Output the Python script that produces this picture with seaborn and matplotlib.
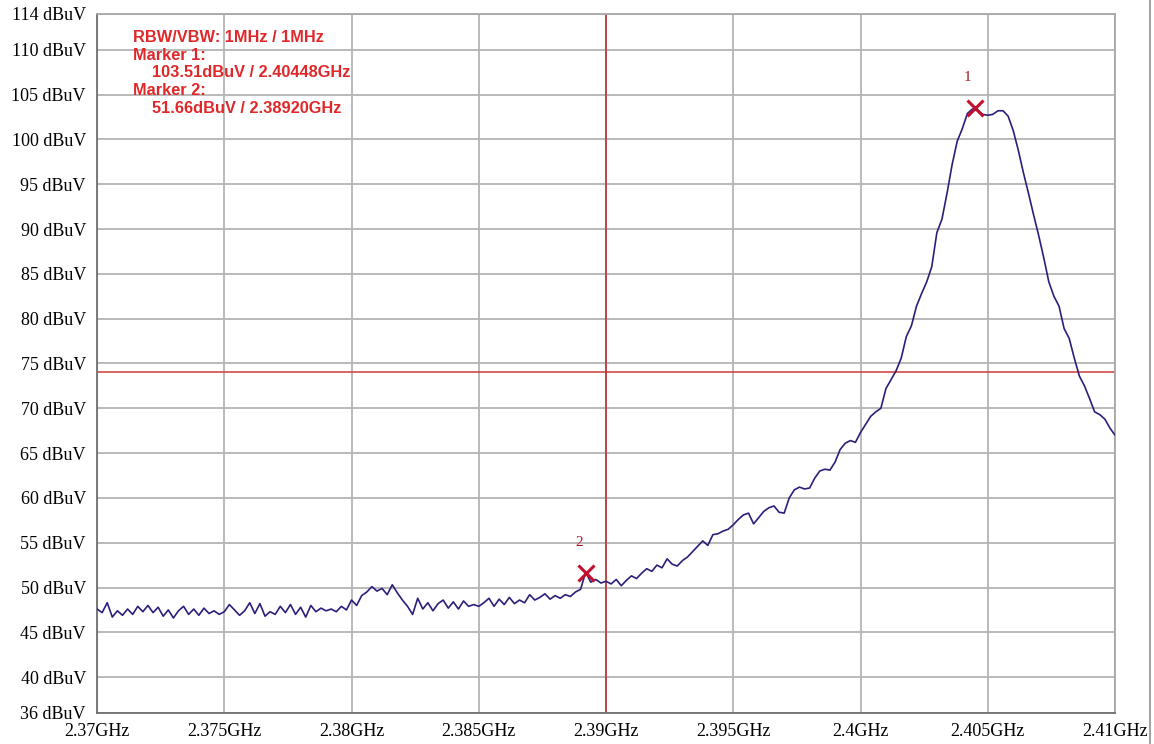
import matplotlib
matplotlib.use('Agg')
import matplotlib.pyplot as plt
import seaborn as sns
import numpy as np
import pandas as pd
from matplotlib.lines import Line2D

# sweep settings
freq_start = 2.37
freq_stop = 2.41

# measured trace, one value per 0.2 MHz step (dBuV)
levels = [
    47.6, 47.2, 48.3, 46.7, 47.4, 46.9, 47.6, 47.0, 47.9, 47.3,
    48.0, 47.2, 47.8, 46.8, 47.5, 46.6, 47.4, 47.9, 47.0, 47.6,
    46.9, 47.7, 47.1, 47.4, 47.0, 47.3, 48.1, 47.5, 46.9, 47.4,
    48.3, 47.1, 48.2, 46.8, 47.3, 47.0, 47.9, 47.2, 48.1, 47.0,
    47.8, 46.7, 48.0, 47.3, 47.7, 47.4, 47.6, 47.3, 47.9, 47.5,
    48.6, 48.0, 49.1, 49.5, 50.1, 49.6, 49.9, 49.2, 50.3, 49.4,
    48.6, 47.9, 47.0, 48.8, 47.6, 48.3, 47.4, 48.2, 48.6, 47.7,
    48.4, 47.6, 48.5, 47.9, 48.1, 47.9, 48.3, 48.8, 47.9, 48.7,
    48.1, 48.9, 48.2, 48.6, 48.3, 49.2, 48.6, 48.9, 49.3, 48.7,
    49.1, 48.8, 49.2, 49.0, 49.5, 49.8, 51.7, 50.6, 50.9, 50.5,
    50.7, 50.4, 50.9, 50.2, 50.8, 51.3, 51.0, 51.6, 52.1, 51.8,
    52.5, 52.2, 53.2, 52.6, 52.4, 53.0, 53.4, 54.0, 54.6, 55.2,
    54.7, 55.9, 56.0, 56.3, 56.5, 57.0, 57.6, 58.1, 58.3, 57.1,
    57.8, 58.5, 58.9, 59.1, 58.4, 58.3, 60.0, 60.9, 61.2, 61.0,
    61.1, 62.2, 63.0, 63.2, 63.1, 64.0, 65.4, 66.1, 66.4, 66.2,
    67.3, 68.2, 69.1, 69.6, 70.0, 72.2, 73.2, 74.2, 75.6, 78.0,
    79.2, 81.4, 82.8, 84.1, 85.8, 89.6, 91.1, 94.0, 97.2, 99.8,
    101.2, 102.9, 103.4, 103.3, 102.8, 102.7, 102.8, 103.2, 103.2, 102.6,
    101.0, 98.8, 96.3, 94.0, 91.6, 89.3, 86.8, 84.1, 82.5, 81.4,
    78.9, 77.8, 75.6, 73.6, 72.5, 71.1, 69.6, 69.3, 68.8, 67.8,
    67.0,
]

marker_names = ['1', '2']
marker_freq = [2.40448, 2.38920]
marker_level = [103.51, 51.66]

limit_level = 74
band_edge = 2.39

y_ticks = [36, 40, 45, 50, 55, 60, 65, 70, 75, 80, 85, 90, 95, 100, 105, 110, 114]
x_ticks = [2.37, 2.375, 2.38, 2.385, 2.39, 2.395, 2.4, 2.405, 2.41]
x_labels = ['2.37GHz', '2.375GHz', '2.38GHz', '2.385GHz', '2.39GHz',
            '2.395GHz', '2.4GHz', '2.405GHz', '2.41GHz']

info_lines = ['RBW/VBW: 1MHz / 1MHz', 'Marker 1:', '103.51dBuV / 2.40448GHz',
              'Marker 2:', '51.66dBuV / 2.38920GHz']

sns.set_style('white')
plt.rcParams['font.family'] = ['Liberation Serif', 'DejaVu Serif']

df = pd.DataFrame({
    'freq': np.linspace(freq_start, freq_stop, len(levels)),
    'level': levels,
})

fig = plt.figure(figsize=(11.54, 7.44), dpi=100)
ax = fig.add_axes([0.0841, 0.0417, 0.8821, 0.9395])

ax.set_xlim(freq_start, freq_stop)
ax.set_ylim(36, 114)
ax.set_yticks(y_ticks)
ax.set_yticklabels([f'{v} dBuV' for v in y_ticks])
ax.set_xticks(x_ticks)
ax.set_xticklabels(x_labels)
ax.tick_params(axis='both', length=0, labelsize=13, colors='black')
ax.tick_params(axis='y', pad=8)
ax.tick_params(axis='x', pad=7)
ax.grid(True, color='#b4b4b4', linewidth=1.3)
ax.set_axisbelow(True)
for side in ['left', 'bottom']:
    ax.spines[side].set_color('#707070')
    ax.spines[side].set_linewidth(1.3)
for side in ['top', 'right']:
    ax.spines[side].set_color('#a8a8a8')
    ax.spines[side].set_linewidth(1.3)

ax.axhline(limit_level, color='#d03a3a', linewidth=1.1, zorder=2)
ax.axvline(band_edge, color='#b82a2a', linewidth=1.1, zorder=2)

sns.lineplot(data=df, x='freq', y='level', ax=ax, color='#2b1f7a',
             linewidth=1.2, estimator=None, sort=False, zorder=3)
ax.set_xlabel('')
ax.set_ylabel('')

ax.plot(marker_freq, marker_level, linestyle='none', marker='x',
        markersize=11, markeredgewidth=2.2, color='#c4102c', zorder=4)
for name, f, lv in zip(marker_names, marker_freq, marker_level):
    ax.annotate(name, (f, lv), xytext=(-5, 22), textcoords='offset points',
                ha='center', va='center', fontsize=11, color='#a81c24')

info_x = [0.0354, 0.0354, 0.054, 0.0354, 0.054]
info_y = [0.967, 0.941, 0.916, 0.891, 0.865]
for txt, tx, ty in zip(info_lines, info_x, info_y):
    ax.text(tx, ty, txt, transform=ax.transAxes, ha='left', va='center',
            fontsize=11.8, fontweight='bold', color='#e0282a',
            family=['Liberation Sans', 'DejaVu Sans'])

# outer frame line on the right edge of the window
fig.add_artist(Line2D([0.9965, 0.9965], [0, 1], transform=fig.transFigure,
                      color='#9a9a9a', linewidth=1.3))

fig.savefig('out.png', dpi=100)
